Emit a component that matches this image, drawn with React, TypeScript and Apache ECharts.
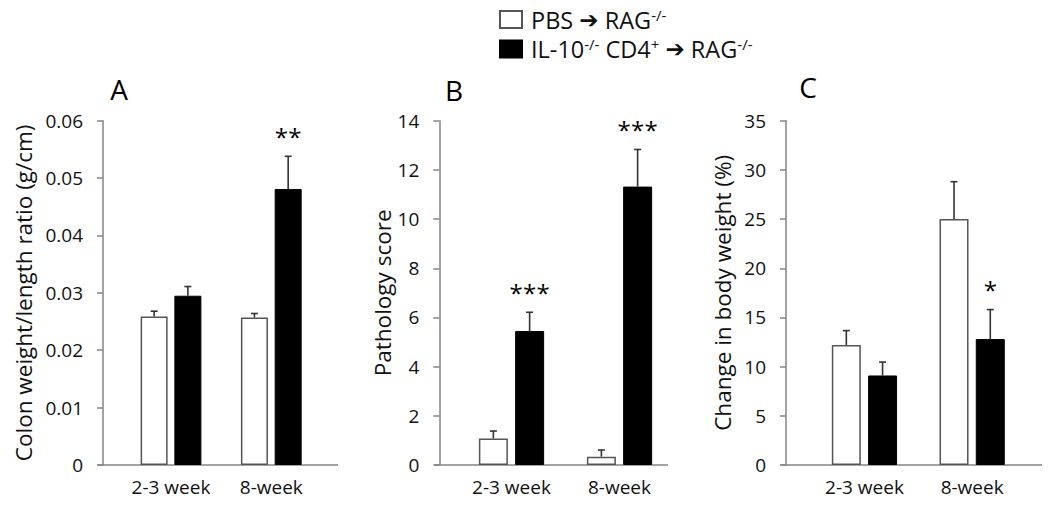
import React, { useEffect, useRef } from 'react';
import * as echarts from 'echarts';

// ---------- data ----------
const categories = ['2-3 week', '8-week'];
const groupNames = ['PBS ➔ RAG-/-', 'IL-10-/- CD4+ ➔ RAG-/-'];
const legendRich = [
  '{n|PBS }{a|➔}{n| RAG}{s|-/-}',
  '{n|IL-10}{s|-/-}{n| CD4}{s|+}{n| }{a|➔}{n| RAG}{s|-/-}',
];

// Panel A: colon weight/length ratio (g/cm)
const colonPBS = [0.0259, 0.0257];
const colonPBSErr = [0.0009, 0.0007];
const colonIL10 = [0.0295, 0.0481];
const colonIL10Err = [0.0016, 0.0057];
const colonSig = ['', '**'];

// Panel B: pathology score
const pathPBS = [1.08, 0.34];
const pathPBSErr = [0.30, 0.27];
const pathIL10 = [5.45, 11.32];
const pathIL10Err = [0.76, 1.51];
const pathSig = ['***', '***'];

// Panel C: change in body weight (%)
const weightPBS = [12.2, 25.0];
const weightPBSErr = [1.46, 3.8];
const weightIL10 = [9.1, 12.8];
const weightIL10Err = [1.36, 3.0];
const weightSig = ['', '*'];

const panelLetters = ['A', 'B', 'C'];
const yTitles = ['Colon weight/length ratio (g/cm)', 'Pathology score', 'Change in body weight (%)'];
const yMax = [0.06, 14, 35];
const yStep = [0.01, 2, 5];

// ---------- layout ----------
const FONT = "'Open Sans', 'DejaVu Sans', sans-serif";
const TOP = 120.7;
const HEIGHT = 344.3;
const STAR_STEP = 13.5;
const layout = [
  { left: 120.85, width: 200.6, axisX: 103, lineEnd: 338, barW: 27, nameGap: 68, letterX: 119, letterY: 89 },
  { left: 457.5, width: 216, axisX: 439.3, lineEnd: 668, barW: 29, nameGap: 45, letterX: 454, letterY: 90 },
  { left: 810.6, width: 215.4, axisX: 786, lineEnd: 1043, barW: 29, nameGap: 52, letterX: 808, letterY: 87 },
];

const panels = [
  { pbs: colonPBS, pbsErr: colonPBSErr, il: colonIL10, ilErr: colonIL10Err, sig: colonSig },
  { pbs: pathPBS, pbsErr: pathPBSErr, il: pathIL10, ilErr: pathIL10Err, sig: pathSig },
  { pbs: weightPBS, pbsErr: weightPBSErr, il: weightIL10, ilErr: weightIL10Err, sig: weightSig },
];

const AXIS_COLOR = '#858585';
const ERR_COLOR = '#333333';

function errSeries(pi: number, means: number[], errs: number[], side: number, sigs: string[]) {
  const bw = layout[pi].barW;
  const offset = side * bw * 0.625;
  return {
    type: 'custom',
    xAxisIndex: pi,
    yAxisIndex: pi,
    z: 5,
    silent: true,
    data: categories.map((_, i) => [i, means[i], errs[i]]),
    renderItem: (params: any, api: any) => {
      const ci = api.value(0);
      const v = api.value(1);
      const e = api.value(2);
      const p0 = api.coord([ci, v]);
      const p1 = api.coord([ci, v + e]);
      const x = p0[0] + offset;
      const children: any[] = [
        { type: 'line', shape: { x1: x, y1: p0[1], x2: x, y2: p1[1] }, style: { stroke: ERR_COLOR, lineWidth: 1.6 } },
        { type: 'line', shape: { x1: x - 3.5, y1: p1[1], x2: x + 3.5, y2: p1[1] }, style: { stroke: ERR_COLOR, lineWidth: 1.6 } },
      ];
      const sig = sigs[params.dataIndex] || '';
      const n = sig.length;
      for (let k = 0; k < n; k++) {
        children.push({
          type: 'text',
          x: x + (k - (n - 1) / 2) * STAR_STEP,
          y: p1[1] - 20,
          style: {
            text: sig[k],
            align: 'center',
            verticalAlign: 'middle',
            fontSize: 24,
            fontFamily: FONT,
            fill: '#000',
          },
        });
      }
      return { type: 'group', children };
    },
  };
}

export default function App() {
  const ref = useRef<HTMLDivElement>(null);
  useEffect(() => {
    if (!ref.current) return;
    const chart = echarts.init(ref.current, null, { renderer: 'svg' });

    const grid = layout.map((l) => ({ left: l.left, width: l.width, top: TOP, height: HEIGHT }));
    const xAxis = layout.map((_, i) => ({
      type: 'category',
      gridIndex: i,
      data: categories,
      axisLine: { show: false },
      axisTick: { show: false },
      axisLabel: { color: '#111', fontSize: 19, fontFamily: FONT, margin: 12, interval: 0 },
    }));
    const yAxis = layout.map((l, i) => ({
      type: 'value',
      gridIndex: i,
      min: 0,
      max: yMax[i],
      interval: yStep[i],
      offset: l.left - l.axisX,
      name: yTitles[i],
      nameLocation: 'middle',
      nameRotate: 90,
      nameGap: l.nameGap,
      nameTextStyle: { color: '#111', fontSize: 22.5, fontFamily: FONT },
      axisLine: { show: true, lineStyle: { color: AXIS_COLOR, width: 1.5 } },
      axisTick: { show: true, length: 6, inside: false, lineStyle: { color: AXIS_COLOR, width: 1.5 } },
      axisLabel: { color: '#111', fontSize: 19, fontFamily: FONT, margin: 20, padding: [6, 0, 0, 0] },
      splitLine: { show: false },
    }));

    const series: any[] = [];
    panels.forEach((p, i) => {
      const bw = layout[i].barW;
      series.push({
        type: 'bar',
        name: groupNames[0],
        xAxisIndex: i,
        yAxisIndex: i,
        data: p.pbs,
        barWidth: bw,
        barGap: '25%',
        itemStyle: { color: '#ffffff', borderColor: '#555555', borderWidth: 1.5 },
      });
      series.push({
        type: 'bar',
        name: groupNames[1],
        xAxisIndex: i,
        yAxisIndex: i,
        data: p.il,
        barWidth: bw,
        barGap: '25%',
        itemStyle: { color: '#000000', borderColor: '#000000', borderWidth: 1 },
      });
      series.push(errSeries(i, p.pbs, p.pbsErr, -1, ['', '']));
      series.push(errSeries(i, p.il, p.ilErr, 1, p.sig));
    });

    const graphic: any[] = [];
    layout.forEach((l, i) => {
      graphic.push({
        type: 'line',
        shape: { x1: l.axisX - 5, y1: TOP + HEIGHT, x2: l.lineEnd, y2: TOP + HEIGHT },
        style: { stroke: AXIS_COLOR, lineWidth: 1.5 },
        z: 1,
      });
      graphic.push({
        type: 'text',
        x: l.letterX,
        y: l.letterY,
        style: {
          text: panelLetters[i],
          align: 'center',
          verticalAlign: 'middle',
          fontSize: 28,
          fontFamily: FONT,
          fill: '#000',
        },
      });
    });

    chart.setOption({
      animation: false,
      backgroundColor: '#ffffff',
      grid,
      xAxis,
      yAxis,
      series,
      graphic,
      legend: {
        data: groupNames,
        orient: 'vertical',
        left: 499,
        top: 7,
        padding: 0,
        itemWidth: 22,
        itemHeight: 17,
        itemGap: 5,
        icon: 'rect',
        selectedMode: false,
        formatter: (name: string) => legendRich[groupNames.indexOf(name)],
        textStyle: {
          color: '#111',
          fontFamily: FONT,
          padding: [0, 0, 0, 4],
          rich: {
            n: { fontSize: 23.5, lineHeight: 25, fontFamily: FONT, color: '#111' },
            a: { fontSize: 23, lineHeight: 25, fontFamily: "'DejaVu Sans', sans-serif", fontWeight: 'bold', color: '#111' },
            s: { fontSize: 15, lineHeight: 15, fontFamily: FONT, color: '#111', verticalAlign: 'top' },
          },
        },
      },
    });
    return () => chart.dispose();
  }, []);
  return <div ref={ref} style={{ width: 1050, height: 505, margin: -8 }} />;
}
